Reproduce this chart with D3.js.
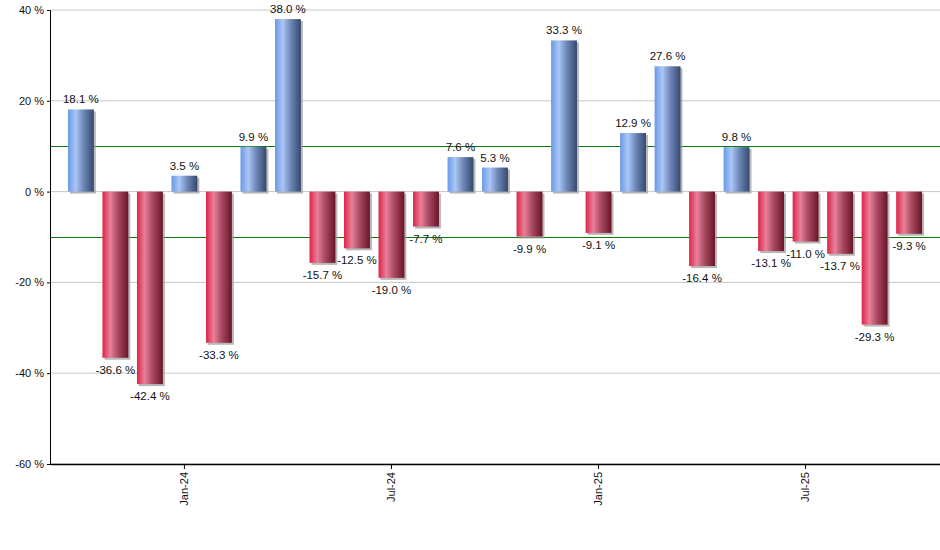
<!DOCTYPE html>
<html><head><meta charset="utf-8">
<script src="https://cdn.jsdelivr.net/npm/d3@7"></script>
<style>body{margin:0;background:#fff}svg{display:block}text{font-family:"Liberation Sans",Arial,sans-serif}</style>
</head><body><svg id="c" width="940" height="550"></svg>
<script>
const months = ["Oct-23","Nov-23","Dec-23","Jan-24","Feb-24","Mar-24","Apr-24","May-24","Jun-24","Jul-24","Aug-24","Sep-24","Oct-24","Nov-24","Dec-24","Jan-25","Feb-25","Mar-25","Apr-25","May-25","Jun-25","Jul-25","Aug-25","Sep-25","Oct-25"];
const values = [18.1,-36.6,-42.4,3.5,-33.3,9.9,38.0,-15.7,-12.5,-19.0,-7.7,7.6,5.3,-9.9,33.3,-9.1,12.9,27.6,-16.4,9.8,-13.1,-11.0,-13.7,-29.3,-9.3];
const xTicks = ["Jan-24","Jul-24","Jan-25","Jul-25"];
const yTicks = [-60,-40,-20,0,20,40];
const refLines = [10,-10];

const svg = d3.select("#c");
const L=50,R=940,T=10,B=464;
const x = d3.scaleBand().domain(months).range([L,R]).paddingInner(0.25).paddingOuter(0.52);
const y = d3.scaleLinear().domain([-60,40]).range([B,T]);

const defs = svg.append("defs");
function grad(id, stops){
  const g = defs.append("linearGradient").attr("id",id).attr("x1","0%").attr("x2","100%").attr("y1","0%").attr("y2","0%");
  stops.forEach(s=>g.append("stop").attr("offset",s[0]).attr("stop-color",s[1]));
}
grad("gb",[["0%","#6b98e6"],["30%","#aac7f6"],["60%","#6f88b8"],["100%","#34496f"]]);
grad("gr",[["0%","#dc2447"],["30%","#e9809a"],["60%","#a84a62"],["100%","#6a1427"]]);

// grid
svg.append("g").selectAll("line").data(yTicks).join("line")
  .attr("x1",L).attr("x2",R).attr("y1",d=>y(d)).attr("y2",d=>y(d))
  .attr("stroke","#c8c8c8").attr("stroke-width",1);

// ref lines
svg.append("g").selectAll("line").data(refLines).join("line")
  .attr("x1",L).attr("x2",R).attr("y1",d=>Math.round(y(d))+0.5).attr("y2",d=>Math.round(y(d))+0.5)
  .attr("stroke","#0a7a0a").attr("stroke-width",1);

// shadows
svg.append("g").selectAll("rect").data(values).join("rect")
  .attr("x",(d,i)=>x(months[i])+2).attr("width",x.bandwidth())
  .attr("y",d=>Math.min(y(d),y(0))+2).attr("height",d=>Math.abs(y(d)-y(0)))
  .attr("fill","#9a9a9a").attr("opacity",0.7);

// bars
svg.append("g").selectAll("rect").data(values).join("rect")
  .attr("x",(d,i)=>x(months[i])).attr("width",x.bandwidth())
  .attr("y",d=>Math.min(y(d),y(0))).attr("height",d=>Math.abs(y(d)-y(0)))
  .attr("fill",d=>d>=0?"url(#gb)":"url(#gr)");

// labels
svg.append("g").selectAll("text").data(values).join("text")
  .attr("x",(d,i)=>x(months[i])+x.bandwidth()/2)
  .attr("y",d=>d>=0?y(d)-6:y(d)+16)
  .attr("text-anchor","middle").attr("font-size",11.5).attr("fill","#111")
  .text(d=>d.toFixed(1)+" %");

// axes
const ya = svg.append("g").attr("transform",`translate(${L},0)`)
  .call(d3.axisLeft(y).tickValues(yTicks).tickSize(3).tickFormat(d=>d+" %"));
ya.select(".domain").attr("stroke","#000");
ya.selectAll("text").attr("font-size",11).attr("fill","#111").attr("font-family","Liberation Sans, Arial, sans-serif");

const xa = svg.append("g").attr("transform",`translate(0,${B})`)
  .call(d3.axisBottom(x).tickValues(xTicks).tickSize(5).tickSizeOuter(0));
xa.select(".domain").attr("stroke","#000").attr("stroke-width",1.3);
xa.selectAll("text").attr("font-size",11).attr("fill","#111").attr("font-family","Liberation Sans, Arial, sans-serif")
  .attr("transform","rotate(-90)").attr("text-anchor","end").attr("x",-8).attr("y",0).attr("dy","0.35em");
</script></body></html>
